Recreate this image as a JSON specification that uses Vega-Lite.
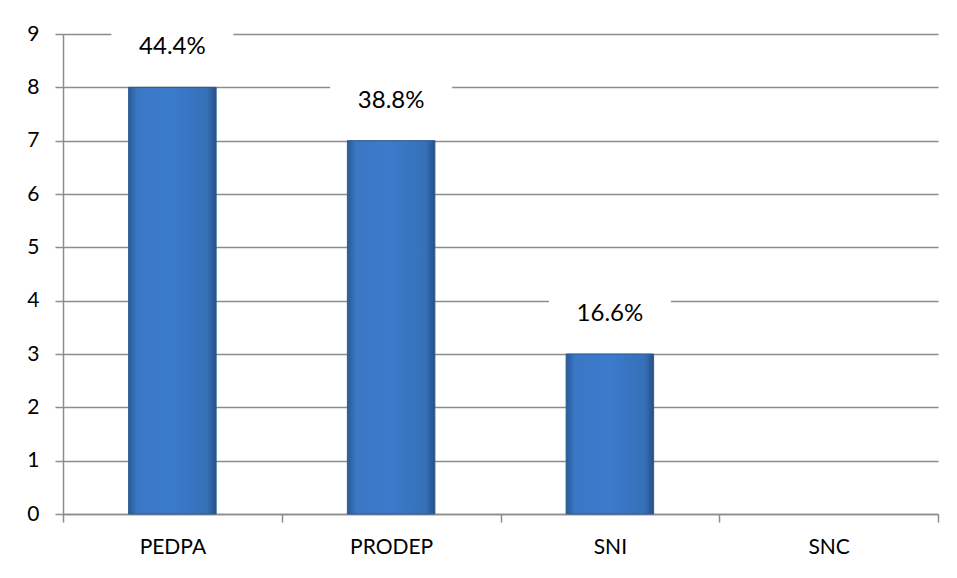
{
  "$schema": "https://vega.github.io/schema/vega-lite/v6.json",
  "width": 875,
  "height": 480,
  "autosize": "none",
  "padding": {"left": 63, "top": 34, "right": 19, "bottom": 64},
  "background": "white",
  "config": {"view": {"stroke": null}, "font": "Lato"},
  "data": {"values": [
    {"cat": "PEDPA", "value": 8, "pct": "44.4%"},
    {"cat": "PRODEP", "value": 7, "pct": "38.8%"},
    {"cat": "SNI", "value": 3, "pct": "16.6%"},
    {"cat": "SNC", "value": 0, "pct": ""}
  ]},
  "encoding": {
    "x": {
      "field": "cat", "type": "nominal", "sort": null,
      "scale": {"paddingInner": 0, "paddingOuter": 0},
      "axis": {
        "title": null, "labelAngle": 0, "grid": false,
        "domainColor": "#8c8c8c", "domainWidth": 1.5,
        "tickColor": "#8c8c8c", "tickWidth": 1.5, "tickSize": 8,
        "tickBand": "extent", "tickExtra": true,
        "labelPadding": 14, "labelFontSize": 21, "labelColor": "#000000"
      }
    }
  },
  "layer": [
    {
      "mark": {
        "type": "bar",
        "width": {"band": 0.4},
        "strokeWidth": 1,
        "color": {
          "gradient": "linear", "x1": 0, "x2": 1, "y1": 0, "y2": 0,
          "stops": [
            {"offset": 0, "color": "#2a5a96"},
            {"offset": 0.1, "color": "#3a78c6"},
            {"offset": 0.5, "color": "#3b7bcb"},
            {"offset": 0.9, "color": "#3670b8"},
            {"offset": 1, "color": "#264f85"}
          ]
        }
      },
      "encoding": {
        "y": {
          "field": "value", "type": "quantitative",
          "scale": {"domain": [0, 9], "nice": false},
          "axis": {
            "title": null, "values": [0, 1, 2, 3, 4, 5, 6, 7, 8, 9],
            "grid": true, "gridColor": "#8c8c8c", "gridWidth": 1.5,
            "domainColor": "#8c8c8c", "domainWidth": 1.5,
            "tickColor": "#8c8c8c", "tickWidth": 1.5, "tickSize": 8,
            "labelPadding": 16, "labelFontSize": 21, "labelColor": "#000000"
          }
        },
        "stroke": {"condition": {"test": "datum.value > 0", "value": "#2b5b94"}, "value": null},
        "opacity": {"condition": {"test": "datum.value > 0", "value": 1}, "value": 0}
      }
    },
    {
      "transform": [{"filter": "datum.value > 0"}],
      "mark": {"type": "rect", "width": 122, "height": 46, "yOffset": -40, "fill": "white"},
      "encoding": {"y": {"field": "value", "type": "quantitative"}}
    },
    {
      "transform": [{"filter": "datum.value > 0"}],
      "mark": {"type": "text", "dy": -40, "fontSize": 24, "color": "#000000"},
      "encoding": {
        "y": {"field": "value", "type": "quantitative"},
        "text": {"field": "pct"}
      }
    }
  ]
}
